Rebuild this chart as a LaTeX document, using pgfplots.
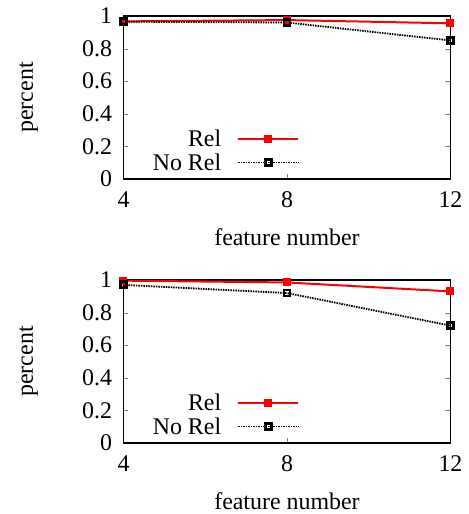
\documentclass[border=0pt]{standalone}
\usepackage{pgfplots}
\pgfplotsset{compat=1.18}
\usepackage{fontspec}
\setmainfont{Liberation Serif}
\newfontfamily\tnr{Liberation Serif}
\newcommand\ff{\tnr\fontsize{24}{26}\selectfont}
\begin{document}
\pgfplotsset{
  myax/.style={
    scale only axis, width=327bp, height=163bp,
    xmin=4, xmax=12, ymin=0, ymax=1,
    xtick={4,8,12}, ytick={0,0.2,0.4,0.6,0.8,1},
    xticklabels={4,8,12}, yticklabels={0,0.2,0.4,0.6,0.8,1},
    tick align=inside, tick pos=both, major tick length=5bp,
    axis line style={line width=1.2pt},
    tick label style={font=\ff},
    label style={font=\ff},
    xticklabel style={yshift=-9bp},
    yticklabel style={xshift=-8bp},
    xlabel={feature number}, ylabel={percent},
    every axis x label/.style={at={(axis description cs:0.5,-0.36)},anchor=center,font=\ff},
    every axis y label/.style={at={(axis description cs:-0.29,0.5)},rotate=90,anchor=center,font=\ff},
    legend plot pos=right,
    legend cell align=right,
    legend style={draw=none, fill=none, inner sep=0pt, font=\ff, at={(axis description cs:0.538,0.172)}, anchor=east, row sep=1bp, /tikz/every odd column/.append style={column sep=14bp}},
    legend image code/.code={\draw[mark repeat=2,mark phase=2,##1] plot coordinates {(0bp,0bp) (30bp,0bp) (60bp,0bp)};},
  },
  relstyle/.style={red, line width=2pt, mark=square*, mark size=3bp, mark options={solid}},
  norelstyle/.style={black, line width=1.8pt, dash pattern=on 1.5pt off 1pt, mark=square, mark size=3bp, mark options={solid, line width=2.8pt}},
}
\begin{tikzpicture}
\useasboundingbox (0,0) rectangle (466bp,-514bp);
\begin{axis}[myax, at={(121bp,-179bp)}, anchor=south west]
\addplot[relstyle] coordinates {(4,0.967) (8,0.975) (12,0.955)};
\addlegendentry{Rel}
\addplot[norelstyle] coordinates {(4,0.965) (8,0.96) (12,0.85)};
\addlegendentry{No Rel}
\end{axis}
\begin{axis}[myax, at={(121bp,-443bp)}, anchor=south west]
\addplot[relstyle] coordinates {(4,0.996) (8,0.985) (12,0.93)};
\addlegendentry{Rel}
\addplot[norelstyle] coordinates {(4,0.97) (8,0.92) (12,0.72)};
\addlegendentry{No Rel}
\end{axis}
\end{tikzpicture}
\end{document}
